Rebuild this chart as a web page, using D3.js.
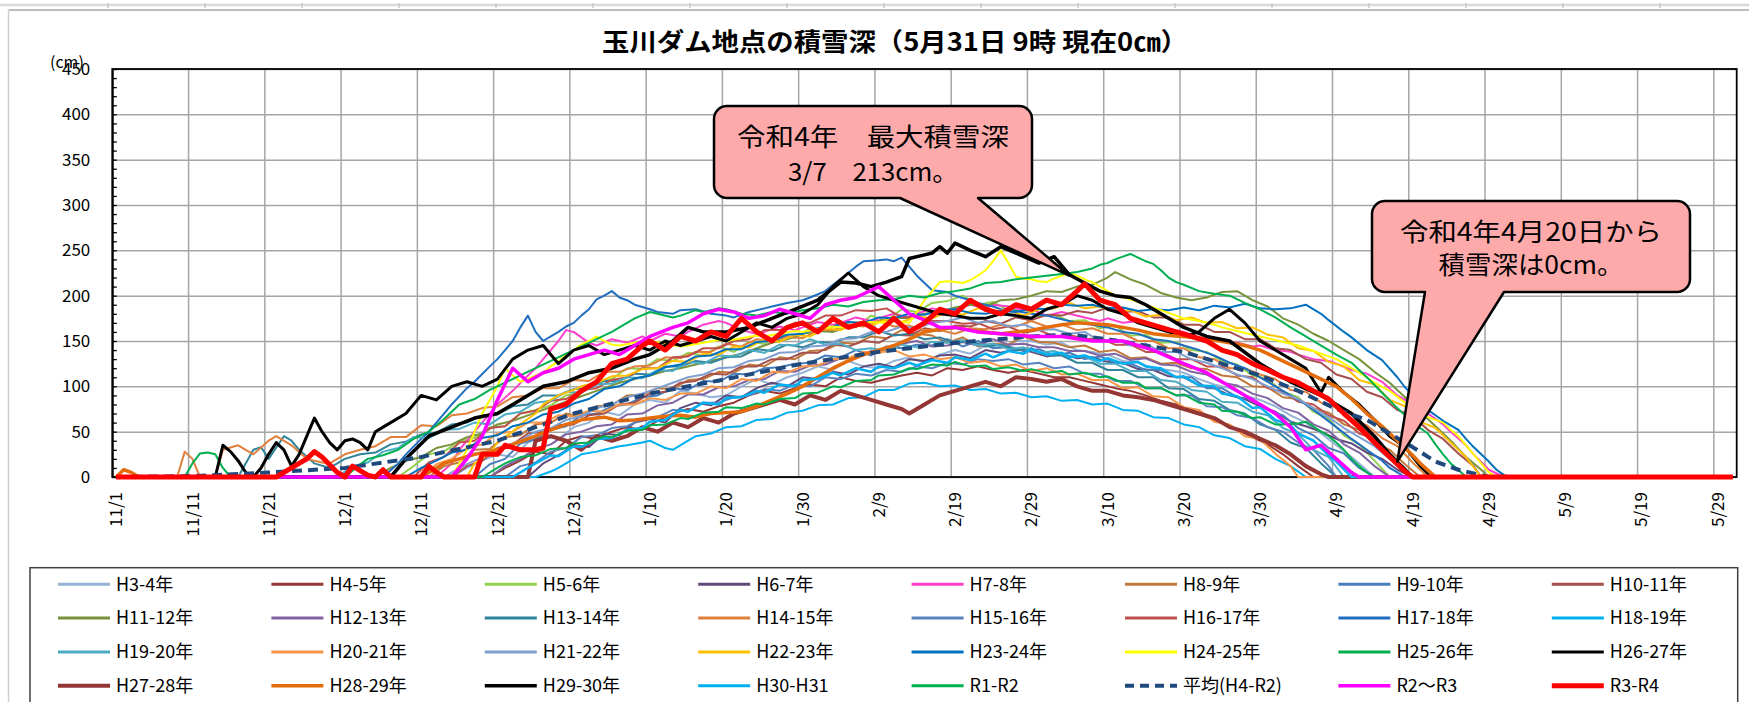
<!DOCTYPE html>
<html>
<head>
<meta charset="utf-8">
<script src="https://cdnjs.cloudflare.com/ajax/libs/d3/7.8.5/d3.min.js"></script>
<style>
body { margin: 0; background: #fff; }
text { font-family: "Noto Sans CJK JP", "Noto Sans", sans-serif; fill: #000; }
</style>
</head>
<body>
<div id="chart"></div>
<script>
// snow depth (cm), as [day index, cm]; day 0 = 11/1, day 212 = 5/31

var seriesNames = ["H3-4年","H4-5年","H5-6年","H6-7年","H7-8年","H8-9年","H9-10年","H10-11年",
    "H11-12年","H12-13年","H13-14年","H14-15年","H15-16年","H16-17年","H17-18年","H18-19年",
    "H19-20年","H20-21年","H21-22年","H22-23年","H23-24年","H24-25年","H25-26年","H26-27年",
    "H27-28年","H28-29年","H29-30年","H30-H31","R1-R2","平均(H4-R2)","R2～R3","R3-R4"];

var xTickLabels = ["11/1","11/11","11/21","12/1","12/11","12/21","12/31","1/10","1/20","1/30","2/9",
    "2/19","2/29","3/10","3/20","3/30","4/9","4/19","4/29","5/9","5/19","5/29"];
var yTicks = [0,50,100,150,200,250,300,350,400,450];

var H3_4 = [[0,0],[44,0],[46,10],[48,18],[50,25],[52,22],[54,38],[56,45],[58,42],[60,55],[62,60],[64,72],[66,68],[68,80],[70,85],[72,82],[74,95],[76,92],[78,88],[80,90],[82,100],[84,108],[86,102],[88,110],[90,115],[92,122],[94,118],[96,128],[98,122],[100,120],[102,128],[104,132],[106,126],[108,135],[110,140],[112,136],[114,145],[116,142],[118,150],[120,150],[122,146],[124,148],[126,140],[128,138],[130,135],[132,128],[134,126],[136,120],[138,118],[140,115],[142,108],[144,102],[146,98],[148,90],[150,85],[152,78],[154,68],[156,60],[158,48],[160,35],[162,22],[163,15],[165,0],[212,0]];
var H4_5 = [[0,0],[49,0],[51,10],[53,18],[55,28],[57,25],[59,40],[61,45],[63,42],[65,50],[67,55],[69,52],[71,62],[73,70],[75,75],[77,72],[79,78],[81,82],[83,90],[85,95],[87,92],[89,98],[91,102],[93,100],[95,110],[97,106],[99,104],[101,108],[103,112],[105,115],[107,112],[109,120],[111,118],[113,122],[115,118],[117,115],[119,118],[121,114],[123,110],[125,110],[127,106],[129,102],[131,98],[133,95],[135,90],[137,84],[139,80],[141,72],[143,66],[145,60],[147,52],[149,44],[151,36],[153,25],[155,12],[157,0],[212,0]];
var H5_6 = [[0,0],[37,0],[39,12],[41,25],[43,28],[45,40],[47,43],[49,55],[51,56],[53,70],[55,74],[57,79],[59,90],[61,93],[63,106],[65,108],[67,120],[69,119],[71,130],[73,128],[75,137],[77,134],[79,144],[81,138],[83,149],[85,147],[87,158],[89,153],[91,164],[93,162],[95,172],[97,165],[99,178],[101,172],[103,185],[105,182],[107,192],[109,194],[111,200],[113,190],[115,193],[117,184],[119,185],[121,177],[123,179],[125,172],[127,173],[129,164],[131,167],[133,156],[135,157],[137,148],[139,149],[141,140],[143,138],[145,128],[147,124],[149,112],[151,108],[153,94],[155,88],[157,72],[159,64],[161,46],[163,36],[165,18],[167,0],[212,0]];
var H6_7 = [[0,0],[54,0],[56,15],[58,24],[60,35],[62,33],[64,48],[66,46],[68,60],[70,64],[72,60],[74,76],[76,82],[78,79],[80,90],[82,88],[84,98],[86,104],[88,100],[90,110],[92,108],[94,116],[96,113],[98,122],[100,125],[102,121],[104,130],[106,128],[108,134],[110,135],[112,131],[114,140],[116,137],[118,141],[120,138],[122,133],[124,136],[126,131],[128,132],[130,127],[132,126],[134,119],[136,118],[138,111],[140,110],[142,101],[144,98],[146,90],[148,86],[150,78],[152,72],[154,61],[156,56],[158,50],[160,42],[162,37],[164,27],[166,20],[168,8],[170,0],[212,0]];
var H7_8 = [[0,0],[42,0],[44,15],[45,30],[47,50],[48,60],[50,80],[52,95],[54,112],[55,120],[57,140],[58,150],[59,162],[60,160],[62,148],[63,145],[65,152],[67,148],[69,155],[70,150],[72,158],[74,155],[75,160],[77,168],[79,172],[80,170],[82,162],[84,158],[85,160],[87,166],[89,162],[90,165],[92,171],[94,168],[95,170],[97,176],[99,172],[100,175],[102,180],[104,176],[105,180],[107,186],[109,182],[110,185],[112,190],[114,186],[115,190],[117,188],[119,184],[120,185],[122,178],[124,182],[125,180],[127,176],[129,172],[130,175],[132,170],[134,172],[135,170],[137,164],[139,162],[140,160],[142,154],[144,152],[145,150],[147,148],[149,144],[150,145],[152,140],[154,138],[155,135],[157,130],[159,128],[160,125],[162,118],[164,114],[166,105],[168,90],[169,85],[171,75],[172,70],[174,58],[175,50],[177,35],[178,25],[180,8],[182,0],[212,0]];
var H8_9 = [[0,0],[41,0],[43,12],[45,16],[47,30],[49,31],[51,44],[53,46],[55,58],[57,60],[59,70],[61,66],[63,78],[65,79],[67,90],[69,91],[71,98],[73,97],[75,107],[77,108],[79,116],[81,115],[83,124],[85,122],[87,132],[89,130],[91,139],[93,140],[95,148],[97,147],[99,155],[101,153],[103,162],[105,158],[107,156],[109,148],[111,154],[113,144],[115,147],[117,146],[119,155],[121,149],[123,148],[125,143],[127,145],[129,138],[131,140],[133,131],[135,132],[137,125],[139,126],[141,120],[143,119],[145,112],[147,110],[149,100],[151,99],[153,88],[155,86],[157,76],[159,71],[161,58],[163,52],[165,38],[167,30],[169,14],[171,0],[212,0]];
var H9_10 = [[0,0],[47,0],[49,14],[51,20],[53,37],[55,42],[57,52],[59,56],[61,68],[63,70],[65,78],[67,80],[69,88],[71,90],[73,98],[75,96],[77,106],[79,105],[81,114],[83,113],[85,120],[87,121],[89,125],[91,126],[93,134],[95,132],[97,140],[99,134],[101,144],[103,142],[105,146],[107,145],[109,152],[111,144],[113,150],[115,142],[117,144],[119,139],[121,141],[123,134],[125,137],[127,130],[129,133],[131,126],[133,125],[135,118],[137,118],[139,110],[141,110],[143,98],[145,98],[147,88],[149,86],[151,74],[153,68],[155,54],[157,46],[159,32],[161,26],[163,10],[165,0],[212,0]];
var H10_11 = [[0,0],[44,0],[46,12],[48,18],[50,32],[52,36],[54,48],[56,50],[58,57],[60,58],[62,68],[64,70],[66,80],[68,82],[70,92],[72,94],[74,104],[76,106],[78,114],[80,113],[82,122],[84,122],[86,130],[88,130],[90,137],[92,137],[94,146],[96,144],[98,150],[100,148],[102,157],[104,156],[106,164],[108,161],[110,167],[112,166],[114,172],[116,169],[118,176],[120,173],[122,179],[124,178],[126,183],[128,181],[130,187],[132,182],[134,183],[136,176],[138,176],[140,168],[142,168],[144,160],[146,160],[148,152],[150,152],[152,142],[154,140],[156,130],[158,126],[160,113],[162,108],[164,94],[166,88],[168,74],[170,67],[172,52],[174,42],[176,26],[178,12],[179,0],[212,0]];
var H11_12 = [[0,0],[34,0],[36,10],[38,18],[40,22],[42,32],[44,36],[46,44],[48,48],[50,58],[52,62],[54,68],[56,74],[58,80],[60,86],[62,92],[64,98],[66,104],[68,108],[70,112],[72,117],[74,120],[76,124],[78,128],[80,132],[82,136],[84,142],[86,148],[88,152],[90,158],[92,161],[94,160],[96,166],[98,168],[100,172],[102,176],[104,175],[106,180],[108,182],[110,187],[112,190],[114,188],[116,195],[118,196],[120,200],[122,205],[124,204],[126,210],[128,212],[130,220],[131,226],[133,218],[135,212],[137,203],[139,198],[141,195],[143,198],[145,204],[147,205],[149,195],[151,188],[153,175],[155,168],[157,158],[159,150],[161,140],[163,130],[165,116],[167,104],[169,88],[171,72],[173,56],[175,40],[177,22],[179,8],[180,0],[212,0]];
var H12_13 = [[0,0],[49,0],[51,12],[53,20],[55,31],[57,36],[59,47],[61,50],[63,56],[65,58],[67,69],[69,70],[71,79],[73,82],[75,91],[77,91],[79,99],[81,100],[83,107],[85,108],[87,117],[89,116],[91,123],[93,124],[95,131],[97,131],[99,139],[101,140],[103,147],[105,150],[107,144],[109,145],[111,149],[113,145],[115,152],[117,146],[119,147],[121,143],[123,143],[125,139],[127,139],[129,134],[131,136],[133,129],[135,131],[137,124],[139,123],[141,116],[143,113],[145,104],[147,101],[149,92],[151,87],[153,76],[155,71],[157,58],[159,51],[161,36],[163,27],[165,12],[167,0],[212,0]];
var H13_14 = [[0,0],[16,0],[18,30],[19,33],[20,20],[22,45],[23,40],[24,30],[26,15],[28,10],[30,20],[32,25],[34,27],[36,36],[38,39],[40,47],[42,49],[44,58],[46,60],[48,68],[50,69],[52,78],[54,80],[56,90],[58,90],[60,97],[62,98],[64,106],[66,106],[68,114],[70,113],[72,122],[74,122],[76,128],[78,126],[80,132],[82,133],[84,141],[86,139],[88,146],[90,143],[92,149],[94,148],[96,154],[98,154],[100,161],[102,156],[104,158],[106,152],[108,154],[110,148],[112,150],[114,144],[116,146],[118,140],[120,142],[122,134],[124,134],[126,126],[128,126],[130,118],[132,118],[134,110],[136,110],[138,98],[140,97],[142,86],[144,84],[146,74],[148,70],[150,58],[152,52],[154,38],[156,32],[158,15],[160,0],[212,0]];
var H14_15 = [[0,0],[8,0],[9,28],[10,20],[11,0],[13,0],[14,30],[16,35],[18,25],[20,40],[21,45],[23,35],[25,20],[27,16],[28,15],[30,25],[32,30],[34,34],[36,44],[38,44],[40,57],[42,56],[44,68],[46,70],[48,76],[50,78],[52,88],[54,90],[56,98],[58,98],[60,107],[62,106],[64,116],[66,116],[68,122],[70,123],[72,132],[74,131],[76,138],[78,138],[80,147],[82,144],[84,152],[86,150],[88,155],[90,153],[92,162],[94,162],[96,168],[98,166],[100,172],[102,166],[104,167],[106,162],[108,162],[110,158],[112,164],[114,163],[116,168],[118,166],[120,172],[122,166],[124,168],[126,162],[128,164],[130,158],[132,158],[134,150],[136,150],[138,142],[140,142],[142,132],[144,130],[146,120],[148,120],[150,113],[152,108],[154,96],[156,94],[158,82],[160,77],[162,64],[164,57],[166,43],[168,34],[170,16],[172,0],[212,0]];
var H15_16 = [[0,0],[51,0],[53,12],[55,16],[57,28],[59,32],[61,44],[63,46],[65,54],[67,56],[69,64],[71,66],[73,74],[75,73],[77,82],[79,82],[81,88],[83,90],[85,97],[87,95],[89,102],[91,100],[93,110],[95,108],[97,114],[99,112],[101,118],[103,116],[105,122],[107,120],[109,126],[111,124],[113,130],[115,128],[117,130],[119,124],[121,126],[123,120],[125,122],[127,114],[129,114],[131,106],[133,106],[135,98],[137,98],[139,90],[141,90],[143,78],[145,77],[147,68],[149,65],[151,55],[153,50],[155,38],[157,30],[159,12],[160,0],[212,0]];
var H16_17 = [[0,0],[39,0],[41,16],[43,22],[45,38],[47,40],[49,54],[51,56],[53,70],[55,73],[57,84],[59,86],[61,96],[63,98],[65,107],[67,110],[69,120],[71,120],[73,132],[75,133],[77,142],[79,142],[81,150],[83,152],[85,162],[87,162],[89,170],[91,170],[93,178],[95,178],[97,184],[99,183],[101,186],[103,176],[105,177],[107,172],[109,172],[111,169],[113,170],[115,163],[117,166],[119,159],[121,162],[123,155],[125,157],[127,152],[129,153],[131,146],[133,146],[135,138],[137,138],[139,130],[141,130],[143,122],[145,122],[147,112],[149,110],[151,98],[153,94],[155,83],[157,80],[159,68],[161,62],[163,48],[165,42],[167,24],[169,10],[170,0],[212,0]];
var H17_18 = [[0,0],[35,0],[37,15],[38,25],[40,42],[41,50],[43,70],[44,80],[46,98],[47,105],[49,122],[50,130],[51,140],[52,150],[53,165],[54,178],[55,160],[56,150],[57,155],[58,160],[59,166],[60,170],[61,178],[62,185],[63,196],[64,200],[65,205],[66,198],[67,195],[68,190],[70,185],[71,182],[73,180],[74,184],[76,185],[78,180],[80,178],[81,176],[83,182],[85,186],[86,188],[88,192],[90,195],[91,198],[93,205],[94,212],[96,225],[97,232],[98,238],[100,239],[101,240],[102,238],[103,242],[104,232],[105,222],[106,214],[107,206],[109,204],[110,200],[112,195],[113,192],[115,188],[116,185],[118,183],[120,180],[122,178],[124,174],[126,170],[128,168],[130,165],[132,160],[134,158],[136,152],[138,150],[140,145],[142,140],[144,134],[146,126],[148,120],[150,110],[152,100],[154,90],[156,80],[158,68],[160,55],[162,42],[164,30],[166,18],[167,10],[169,0],[212,0]];
var H18_19 = [[0,0],[55,0],[57,6],[58,10],[60,20],[61,25],[63,28],[64,30],[66,34],[67,35],[69,38],[70,40],[71,36],[72,32],[73,30],[75,40],[76,45],[78,48],[80,55],[82,56],[84,63],[86,64],[88,71],[90,73],[92,79],[94,80],[96,87],[98,88],[100,96],[102,96],[104,103],[106,104],[108,100],[110,101],[112,96],[114,97],[116,92],[118,93],[120,88],[122,89],[124,84],[126,85],[128,80],[130,81],[132,74],[134,73],[136,66],[138,65],[140,58],[142,55],[144,46],[146,43],[148,34],[150,31],[152,20],[154,12],[156,0],[212,0]];
var H19_20 = [[0,0],[29,0],[31,12],[33,16],[35,28],[37,32],[39,44],[41,43],[43,52],[45,53],[47,60],[49,58],[51,69],[53,72],[55,82],[57,84],[59,94],[61,93],[63,102],[65,103],[67,110],[69,109],[71,118],[73,117],[75,127],[77,125],[79,134],[81,133],[83,140],[85,137],[87,146],[89,145],[91,152],[93,146],[95,147],[97,140],[99,142],[101,139],[103,146],[105,143],[107,149],[109,148],[111,151],[113,145],[115,147],[117,141],[119,143],[121,137],[123,139],[125,133],[127,133],[129,125],[131,125],[133,117],[135,117],[137,107],[139,105],[141,96],[143,94],[145,83],[147,82],[149,72],[151,68],[153,54],[155,47],[157,30],[159,22],[161,0],[212,0]];
var H20_21 = [[0,0],[40,0],[42,14],[44,20],[46,32],[48,36],[50,48],[52,50],[54,60],[56,60],[58,68],[60,67],[62,73],[64,72],[66,80],[68,80],[70,87],[72,85],[74,92],[76,92],[78,100],[80,98],[82,108],[84,106],[86,116],[88,115],[90,122],[92,123],[94,130],[96,131],[98,138],[100,137],[102,140],[104,133],[106,135],[108,130],[110,132],[112,126],[114,128],[116,122],[118,124],[120,117],[122,120],[124,113],[126,114],[128,107],[130,107],[132,98],[134,99],[136,89],[138,88],[140,77],[142,74],[144,61],[146,58],[148,45],[150,42],[152,26],[154,12],[155,0],[212,0]];
var H21_22 = [[0,0],[43,0],[45,10],[47,18],[49,25],[51,34],[53,40],[55,50],[57,54],[59,63],[61,67],[63,76],[65,80],[67,88],[69,92],[71,98],[73,104],[75,110],[77,113],[79,120],[81,121],[83,128],[85,130],[87,137],[89,138],[91,144],[93,145],[95,152],[97,153],[99,160],[101,160],[103,166],[105,164],[107,170],[109,172],[111,176],[113,170],[115,172],[117,166],[119,168],[121,162],[123,163],[125,158],[127,160],[129,150],[131,152],[133,145],[135,147],[137,138],[139,138],[141,130],[143,126],[145,120],[147,113],[149,108],[151,100],[153,92],[155,86],[157,76],[159,66],[161,54],[163,44],[165,34],[167,20],[169,10],[170,0],[212,0]];
var H22_23 = [[0,0],[46,0],[47,15],[49,26],[50,38],[52,50],[53,58],[55,70],[56,80],[58,90],[60,96],[61,100],[63,104],[65,111],[67,112],[69,119],[71,120],[73,128],[75,127],[77,136],[79,135],[81,144],[83,143],[85,152],[87,149],[89,157],[91,155],[93,164],[95,162],[97,170],[99,167],[101,174],[103,171],[105,177],[107,175],[109,182],[111,179],[113,186],[115,183],[117,184],[119,178],[121,185],[123,186],[125,192],[127,186],[129,188],[131,182],[133,184],[135,177],[137,179],[139,173],[141,176],[143,170],[145,171],[147,164],[149,165],[151,157],[153,154],[155,142],[157,139],[159,127],[161,122],[163,107],[165,102],[167,85],[169,78],[171,61],[173,54],[175,38],[177,22],[179,0],[212,0]];
var H23_24 = [[0,0],[38,0],[40,10],[42,18],[44,27],[46,30],[48,43],[50,46],[52,56],[54,60],[56,69],[58,72],[60,81],[62,86],[64,97],[66,100],[68,109],[70,112],[72,121],[74,124],[76,133],[78,134],[80,141],[82,141],[84,149],[86,150],[88,157],[90,158],[92,164],[94,166],[96,171],[98,170],[100,176],[102,175],[104,180],[106,179],[108,184],[110,185],[112,181],[114,180],[116,183],[118,182],[120,186],[122,185],[124,190],[126,189],[128,190],[130,186],[132,187],[134,183],[136,185],[138,184],[140,187],[142,184],[144,189],[146,187],[148,191],[150,186],[152,185],[154,186],[156,190],[158,180],[159,173],[161,160],[162,154],[164,140],[166,129],[168,110],[169,99],[171,82],[172,74],[174,62],[176,52],[177,42],[178,33],[179,25],[180,17],[181,8],[182,2],[183,0],[212,0]];
var H24_25 = [[0,0],[44,0],[45,15],[46,30],[47,50],[48,70],[49,85],[50,100],[51,120],[52,112],[53,105],[54,108],[55,112],[56,115],[57,122],[58,128],[59,134],[60,140],[61,146],[62,150],[63,155],[64,150],[65,146],[66,145],[68,148],[70,150],[72,147],[74,144],[75,145],[77,148],[79,151],[80,150],[82,153],[84,156],[85,155],[87,158],[89,161],[90,160],[92,163],[94,166],[95,165],[97,168],[99,171],[100,170],[102,172],[104,170],[105,182],[106,195],[107,205],[108,215],[109,216],[110,215],[111,214],[112,217],[113,222],[114,228],[115,238],[116,250],[117,236],[118,221],[119,219],[120,218],[121,216],[122,215],[123,219],[124,222],[125,225],[126,222],[127,218],[128,215],[129,210],[130,205],[131,200],[133,196],[135,190],[137,184],[139,178],[140,175],[142,172],[144,168],[145,165],[147,161],[149,157],[150,155],[152,151],[154,147],[155,145],[157,139],[159,133],[160,130],[162,120],[164,110],[165,104],[167,95],[169,82],[171,70],[172,66],[174,60],[175,52],[176,45],[177,35],[178,25],[179,15],[180,5],[181,0],[212,0]];
var H25_26 = [[0,0],[9,0],[10,15],[11,26],[12,27],[13,25],[14,10],[15,0],[30,0],[32,14],[33,20],[35,24],[37,30],[39,42],[41,50],[43,64],[45,80],[47,86],[49,96],[51,104],[53,112],[55,120],[57,128],[59,136],[61,144],[63,152],[65,160],[67,170],[68,175],[70,182],[71,180],[73,176],[74,178],[76,184],[77,182],[79,186],[80,185],[82,180],[84,178],[86,182],[88,180],[90,184],[92,186],[94,190],[96,188],[98,193],[100,195],[102,196],[104,200],[106,198],[108,203],[110,205],[112,208],[114,214],[116,215],[118,218],[120,220],[122,222],[124,224],[126,226],[128,230],[129,234],[130,236],[131,240],[132,243],[133,246],[134,242],[135,238],[136,235],[137,228],[138,220],[139,215],[140,212],[142,205],[144,202],[146,200],[148,192],[150,185],[152,176],[154,165],[155,160],[156,155],[158,145],[160,135],[162,126],[164,110],[166,93],[168,76],[170,60],[172,48],[173,36],[174,25],[175,15],[176,8],[177,0],[212,0]];
var H26_27 = [[0,0],[13,0],[14,35],[15,28],[16,18],[17,5],[18,0],[19,10],[20,25],[21,38],[22,30],[23,12],[24,25],[25,45],[26,65],[27,50],[28,38],[29,30],[30,40],[31,42],[32,38],[33,30],[34,50],[35,55],[36,60],[38,70],[40,90],[42,85],[44,100],[46,105],[48,100],[50,108],[52,130],[54,140],[56,145],[58,125],[60,140],[62,145],[64,135],[66,140],[68,145],[70,140],[72,150],[74,145],[76,150],[78,155],[80,150],[82,160],[84,170],[86,165],[88,175],[90,180],[92,190],[94,210],[96,225],[98,210],[100,200],[102,195],[104,190],[106,185],[108,180],[110,178],[112,175],[114,175],[116,180],[118,178],[120,175],[122,185],[124,190],[126,200],[128,195],[130,185],[132,180],[134,170],[136,165],[138,160],[140,155],[142,160],[144,175],[146,185],[148,170],[150,150],[152,140],[154,130],[156,120],[158,93],[159,110],[161,93],[163,80],[165,63],[167,45],[169,33],[171,12],[172,4],[173,0],[212,0]];
var H27_28 = [[0,0],[54,0],[55,40],[57,45],[59,40],[61,30],[63,45],[65,40],[67,45],[69,55],[71,50],[73,60],[75,55],[77,65],[79,60],[81,70],[83,75],[85,80],[87,85],[89,80],[91,90],[93,85],[95,95],[97,90],[99,85],[101,80],[103,75],[104,70],[106,80],[108,90],[110,95],[112,100],[114,105],[116,100],[118,110],[120,108],[122,105],[124,108],[126,100],[128,95],[130,95],[132,90],[134,88],[136,85],[138,80],[140,75],[142,70],[144,65],[146,55],[148,50],[150,42],[152,35],[154,25],[156,12],[158,3],[159,0],[212,0]];
var H28_29 = [[0,0],[1,8],[2,5],[3,0],[40,0],[42,10],[43,15],[45,20],[47,25],[49,28],[50,30],[52,36],[54,42],[55,45],[57,52],[59,58],[60,60],[61,63],[63,65],[64,66],[66,62],[68,63],[70,65],[72,67],[74,68],[76,66],[78,70],[80,71],[82,72],[84,78],[86,85],[88,92],[90,100],[92,110],[94,120],[96,128],[98,135],[100,140],[102,145],[104,152],[106,160],[108,163],[110,165],[112,162],[114,160],[116,158],[118,160],[120,162],[122,165],[124,168],[126,170],[128,169],[130,168],[132,165],[134,162],[136,158],[138,156],[140,155],[142,153],[144,151],[146,148],[148,145],[150,140],[152,132],[154,124],[156,116],[158,108],[160,100],[162,86],[164,70],[166,56],[168,40],[170,24],[171,15],[173,0],[212,0]];
var H29_30 = [[0,0],[36,0],[38,20],[41,45],[44,55],[47,65],[50,70],[53,85],[56,100],[59,105],[62,115],[65,120],[68,130],[70,135],[73,150],[75,165],[77,160],[80,160],[83,165],[86,175],[89,185],[92,195],[95,215],[97,214],[99,210],[101,215],[103,221],[104,241],[106,245],[107,247],[108,254],[109,247],[110,258],[112,250],[114,243],[116,254],[118,247],[121,236],[123,243],[125,223],[127,214],[129,205],[131,200],[133,198],[135,190],[138,175],[140,165],[143,155],[146,150],[150,125],[154,105],[158,90],[162,70],[165,45],[167,25],[169,8],[170,0],[212,0]];
var H30_H31 = [[0,0],[52,0],[54,10],[55,15],[57,24],[58,23],[60,34],[61,33],[63,42],[65,43],[67,52],[69,54],[70,61],[72,63],[74,74],[75,72],[77,82],[79,80],[80,87],[82,88],[84,95],[85,93],[87,102],[89,100],[90,107],[92,108],[94,115],[95,112],[97,120],[99,116],[100,122],[102,120],[104,126],[105,123],[107,129],[109,126],[110,132],[112,129],[114,136],[115,132],[117,139],[119,136],[120,141],[122,135],[124,137],[125,132],[127,134],[129,128],[130,131],[132,125],[134,127],[135,122],[137,120],[139,110],[140,111],[142,101],[144,100],[145,92],[147,89],[149,76],[150,77],[152,63],[154,57],[155,48],[157,40],[159,24],[160,17],[162,0],[212,0]];
var R1_R2 = [[0,0],[48,0],[50,10],[51,15],[53,22],[55,24],[57,31],[59,32],[60,37],[62,38],[64,45],[65,44],[67,51],[69,52],[70,57],[72,58],[74,65],[75,64],[77,71],[79,72],[80,77],[82,76],[84,81],[85,80],[87,86],[89,87],[90,92],[92,93],[94,100],[95,99],[97,106],[99,107],[100,112],[102,113],[104,120],[105,119],[107,124],[109,123],[110,127],[112,122],[114,123],[115,119],[117,121],[119,117],[120,119],[122,115],[124,117],[125,113],[127,115],[129,110],[130,111],[132,104],[134,104],[135,98],[137,98],[139,90],[140,91],[142,82],[144,80],[145,73],[147,72],[149,65],[150,66],[152,58],[153,58],[155,59],[156,61],[158,50],[159,45],[160,38],[161,30],[162,20],[163,12],[164,5],[165,0],[212,0]];
var AVG = [[0,0],[10,1],[20,5],[30,10],[40,22],[50,40],[60,70],[70,92],[80,108],[90,125],[100,138],[110,148],[120,155],[125,157],[130,152],[140,138],[150,112],[155,95],[160,75],[164,63],[167,48],[170,33],[173,17],[176,8],[178,4],[180,0],[212,0]];
var R2_R3 = [[0,0],[44,0],[46,20],[48,45],[50,85],[52,120],[54,105],[56,115],[58,120],[60,130],[62,135],[64,140],[66,135],[68,145],[70,155],[73,165],[75,170],[77,180],[79,185],[81,182],[83,175],[85,178],[87,185],[89,180],[91,175],[93,190],[95,195],[97,198],[99,206],[100,210],[102,195],[104,180],[106,173],[108,165],[110,165],[113,160],[116,158],[120,155],[124,155],[128,150],[132,150],[136,140],[140,125],[143,115],[146,100],[149,85],[152,70],[154,55],[156,30],[158,35],[160,20],[162,5],[163,0],[212,0]];
var R3_R4 = [[0,0],[21,0],[23,10],[25,20],[26,28],[27,22],[29,5],[30,0],[31,12],[33,2],[34,0],[35,8],[36,0],[40,0],[41,12],[42,5],[43,0],[47,0],[48,25],[50,25],[51,35],[53,30],[55,30],[56,32],[57,75],[59,80],[61,95],[63,105],[65,125],[67,130],[69,145],[70,150],[72,140],[74,155],[76,150],[78,160],[80,155],[82,175],[84,160],[86,150],[88,165],[90,170],[92,160],[94,175],[96,165],[98,170],[100,160],[102,175],[104,160],[106,170],[108,185],[110,180],[112,195],[114,185],[116,180],[118,190],[120,185],[122,195],[124,190],[126,205],[127,213],[129,195],[131,190],[133,175],[135,170],[137,165],[139,160],[141,155],[143,150],[145,140],[147,135],[149,125],[151,118],[153,110],[155,104],[157,95],[159,86],[161,70],[163,55],[165,38],[167,22],[169,6],[170,0],[212,0]];

var seriesData = [H3_4,H4_5,H5_6,H6_7,H7_8,H8_9,H9_10,H10_11,H11_12,H12_13,H13_14,H14_15,H15_16,H16_17,
    H17_18,H18_19,H19_20,H20_21,H21_22,H22_23,H23_24,H24_25,H25_26,H26_27,H27_28,H28_29,H29_30,H30_H31,
    R1_R2,AVG,R2_R3,R3_R4];

var seriesColors = ["#95b3d7","#953735","#92d050","#604a7b","#ff3fcc","#c0783a","#4a7ebb","#a5504d",
    "#77933c","#8064a2","#31849b","#e0803c","#5a84c0","#c0504d","#1f6ec0","#00b0f0",
    "#4bacc6","#f79646","#7f9fd0","#ffc000","#0070c0","#ffff00","#00b050","#000000",
    "#943634","#e46c0a","#000000","#00b0f0","#00b050","#1f497d","#ff00ff","#ff0000"];
var seriesWidths = [2,2,2,2,2,2,2,2, 2,2,2,2,2,2,2,2, 2,2,2,2,2,2,2,3, 4,3.5,3.5,2.5,2,4,3.5,5];

// ---- layout ----
var svgWidth = 1749, svgHeight = 702;
var plot = {left: 112.3, right: 1736.7, top: 69, bottom: 477};

var svg = d3.select("#chart").append("svg")
    .attr("width", svgWidth)
    .attr("height", svgHeight);
svg.append("rect").attr("width", svgWidth).attr("height", svgHeight).attr("fill", "#fff");

// sheet border bits above / left of the chart
svg.append("line").attr("x1",0).attr("x2",svgWidth).attr("y1",5).attr("y2",5)
    .attr("stroke","#d9d9d9").attr("stroke-width",2.5);
svg.append("g").selectAll("line").data(d3.range(108, svgWidth, 97)).join("line")
    .attr("x1", d => d).attr("x2", d => d).attr("y1", 3).attr("y2", 8)
    .attr("stroke", "#c8c8c8").attr("stroke-width", 1.5);
svg.append("line").attr("x1",8.5).attr("x2",svgWidth).attr("y1",10).attr("y2",10)
    .attr("stroke","#a6a6a6").attr("stroke-width",1.5);
svg.append("line").attr("x1",8.5).attr("x2",8.5).attr("y1",10).attr("y2",svgHeight)
    .attr("stroke","#d0d0d0").attr("stroke-width",1.5);

// scales: one category per day, 11/1 .. 5/31 (leap-year calendar, 2/29 included)
var days = d3.timeDay.range(new Date(2019, 10, 1), new Date(2020, 5, 1))
    .map(d => (d.getMonth() + 1) + "/" + d.getDate());
var xScale = d3.scaleBand().domain(days).range([plot.left, plot.right]);
var xMid = i => xScale(days[i]) + xScale.bandwidth() / 2;
var yScale = d3.scaleLinear().domain([0, 450]).range([plot.bottom, plot.top]);

// gridlines
svg.append("g")
    .attr("transform", `translate(${plot.left},0)`)
    .call(d3.axisLeft(yScale).tickValues(yTicks).tickSize(-(plot.right - plot.left)).tickFormat(""))
    .call(g => g.select(".domain").remove())
    .selectAll("line").attr("stroke", "#a6a6a6").attr("stroke-width", 1.5);
svg.append("g").selectAll("line")
    .data(d3.range(10, days.length, 10))
    .join("line")
    .attr("x1", i => xScale(days[i])).attr("x2", i => xScale(days[i]))
    .attr("y1", plot.top).attr("y2", plot.bottom)
    .attr("stroke", "#a6a6a6").attr("stroke-width", 1.5);

// plot frame
svg.append("rect")
    .attr("x", plot.left).attr("y", plot.top)
    .attr("width", plot.right - plot.left).attr("height", plot.bottom - plot.top)
    .attr("fill", "none").attr("stroke", "#000").attr("stroke-width", 1.8);

// y axis: labels + minor inside ticks
var yAxis = svg.append("g")
    .attr("transform", `translate(${plot.left},0)`)
    .call(d3.axisLeft(yScale).tickValues(yTicks).tickSize(0).tickPadding(22));
yAxis.select(".domain").attr("stroke", "#000").attr("stroke-width", 1.8);
yAxis.selectAll("text").style("font-size", "17px").style("font-family", "'Noto Sans CJK JP'");
svg.append("g")
    .attr("transform", `translate(${plot.left},0)`)
    .call(d3.axisLeft(yScale).tickValues(d3.range(0, 451, 10)).tickSize(-4.5).tickFormat(""))
    .call(g => g.select(".domain").remove())
    .selectAll("line").attr("stroke", "#000").attr("stroke-width", 1.3);

svg.append("text")
    .attr("x", 50).attr("y", 62).attr("dy", "0.35em")
    .style("font-size", "16px")
    .text("(cm)");

// x axis labels, rotated
var xAxis = svg.append("g")
    .attr("transform", `translate(0,${plot.bottom})`)
    .call(d3.axisBottom(xScale).tickValues(xTickLabels).tickSize(0));
xAxis.select(".domain").remove();
xAxis.selectAll("text")
    .attr("transform", "rotate(-90)")
    .attr("x", -15).attr("y", 0).attr("dy", "0.36em")
    .attr("text-anchor", "end")
    .style("font-size", "17px")
    .style("font-family", "'Noto Sans CJK JP'");

// series lines
var line = d3.line().x(d => xMid(d[0])).y(d => yScale(d[1]));
svg.append("g").selectAll("path")
    .data(seriesData)
    .join("path")
    .attr("d", line)
    .attr("fill", "none")
    .attr("stroke", (d, i) => seriesColors[i])
    .attr("stroke-width", (d, i) => seriesWidths[i])
    .attr("stroke-linejoin", "round")
    .attr("stroke-dasharray", (d, i) => seriesNames[i].startsWith("平均") ? "10,6" : null);

// title
svg.append("text")
    .attr("x", 895).attr("y", 42).attr("dy", "0.35em")
    .attr("text-anchor", "middle")
    .attr("textLength", 586).attr("lengthAdjust", "spacingAndGlyphs")
    .style("font-size", "25px").style("font-weight", "bold")
    .text("玉川ダム地点の積雪深（5月31日 9時 現在0㎝）");

// callouts
function callout(box, tail, tip, lines) {
    var r = 13, p = d3.path();
    p.moveTo(box.x0 + r, box.y0);
    p.lineTo(box.x1 - r, box.y0);
    p.arcTo(box.x1, box.y0, box.x1, box.y0 + r, r);
    p.lineTo(box.x1, box.y1 - r);
    p.arcTo(box.x1, box.y1, box.x1 - r, box.y1, r);
    p.lineTo(tail[1], box.y1);
    p.lineTo(xMid(tip[0]), yScale(tip[1]));
    p.lineTo(tail[0], box.y1);
    p.lineTo(box.x0 + r, box.y1);
    p.arcTo(box.x0, box.y1, box.x0, box.y1 - r, r);
    p.lineTo(box.x0, box.y0 + r);
    p.arcTo(box.x0, box.y0, box.x0 + r, box.y0, r);
    p.closePath();
    var g = svg.append("g");
    g.append("path").attr("d", p.toString())
        .attr("fill", "#ffaaaa").attr("stroke", "#000").attr("stroke-width", 2.5)
        .attr("stroke-linejoin", "round");
    lines.forEach(l => {
        g.append("text")
            .attr("x", (box.x0 + box.x1) / 2).attr("y", l.y).attr("dy", "0.35em")
            .attr("text-anchor", "middle")
            .attr("textLength", l.w).attr("lengthAdjust", "spacingAndGlyphs")
            .style("font-size", "25px")
            .text(l.t);
    });
}
callout({x0: 714, x1: 1032, y0: 106, y1: 198}, [900, 978], [125, 222],
    [{t: "令和4年　最大積雪深", y: 137, w: 272}, {t: "3/7　213cm。", y: 172, w: 170}]);
callout({x0: 1372, x1: 1690, y0: 201, y1: 292}, [1425, 1504], [168, 17],
    [{t: "令和4年4月20日から", y: 232, w: 262}, {t: "積雪深は0cm。", y: 265, w: 185}]);

// legend
svg.append("rect")
    .attr("x", 30).attr("y", 567.7).attr("width", 1707.7).attr("height", 200)
    .attr("fill", "none").attr("stroke", "#404040").attr("stroke-width", 1.5);
var legendItems = svg.append("g").selectAll("g")
    .data(seriesNames)
    .join("g")
    .attr("transform", (d, i) => `translate(${58 + (i % 8) * 213.4},${584.3 + Math.floor(i / 8) * 33.8})`);
legendItems.append("line")
    .attr("x1", 0).attr("x2", 52)
    .attr("stroke", (d, i) => seriesColors[i])
    .attr("stroke-width", (d, i) => Math.max(3, seriesWidths[i]))
    .attr("stroke-dasharray", d => d.startsWith("平均") ? "9,6" : null);
legendItems.append("text")
    .attr("x", 58).attr("dy", "0.35em")
    .style("font-size", "18px")
    .text(d => d);
</script>
</body>
</html>
